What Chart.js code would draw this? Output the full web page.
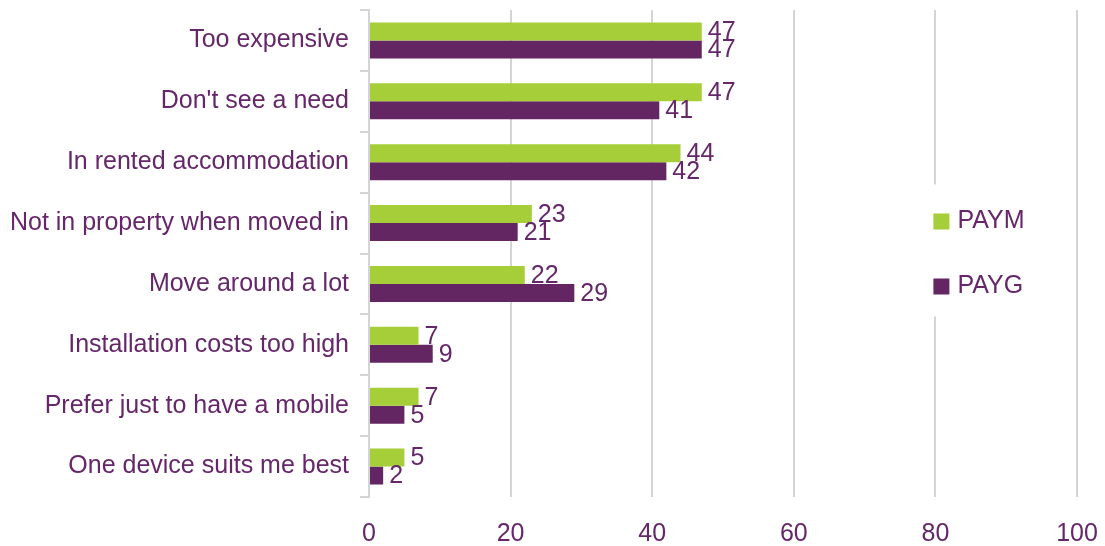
<!DOCTYPE html>
<html>
<head>
<meta charset="utf-8">
<script src="https://cdn.jsdelivr.net/npm/chart.js@4/dist/chart.umd.min.js"></script>
<style>
  html, body { margin: 0; padding: 0; background: #fff; }
  #wrap { width: 1105px; height: 546px; position: relative; }
</style>
</head>
<body>
<div id="wrap"><canvas id="chart"></canvas></div>
<script>
const reasons = [
  'Too expensive',
  "Don't see a need",
  'In rented accommodation',
  'Not in property when moved in',
  'Move around a lot',
  'Installation costs too high',
  'Prefer just to have a mobile',
  'One device suits me best'
];
const paym = [47, 47, 44, 23, 22, 7, 7, 5];
const payg = [47, 41, 42, 21, 29, 9, 5, 2];
const xTicks = [0, 20, 40, 60, 80, 100];

const GREEN = '#a6ce39';
const PURPLE = '#632663';
const TEXT = '#66266a';
const GRID = '#d4d4d4';
const FONT = { family: '"Liberation Sans", Arial, sans-serif', size: 25 };

// value labels just past the end of each bar
const barValues = {
  id: 'barValues',
  afterDatasetsDraw(chart) {
    const g = chart.ctx;
    g.save();
    g.font = FONT.size + 'px ' + FONT.family;
    g.fillStyle = TEXT;
    g.textAlign = 'left';
    g.textBaseline = 'middle';
    chart.data.datasets.forEach((ds, i) => {
      chart.getDatasetMeta(i).data.forEach((bar, j) => {
        g.fillText(String(ds.data[j]), bar.x + 6, bar.y + 1);
      });
    });
    g.restore();
  }
};

// legend sits on top of the plot, right side, with a white backing
const sideLegend = {
  id: 'sideLegend',
  afterDraw(chart) {
    const g = chart.ctx, a = chart.chartArea;
    const x0 = a.left + (a.right - a.left) * 0.8 - 16;
    const yMid = (a.top + a.bottom) / 2;
    g.save();
    g.fillStyle = '#fff';
    g.fillRect(x0 - 14, yMid - 69, 130, 132);
    g.font = FONT.size + 'px ' + FONT.family;
    g.textBaseline = 'middle';
    chart.data.datasets.forEach((ds, i) => {
      const cy = yMid - 32 + i * 65;
      g.fillStyle = ds.backgroundColor;
      g.fillRect(x0 + 14, cy - 8, 16, 16);
      g.fillStyle = TEXT;
      g.fillText(ds.label, x0 + 38, cy);
    });
    g.restore();
  }
};

// keep the plot box fixed: no extra room reserved for label overhang
function noOverhang(s) {
  s.paddingTop = 0; s.paddingBottom = 0;
  s.paddingLeft = 0; s.paddingRight = 0;
}

new Chart(document.getElementById('chart'), {
  type: 'bar',
  data: {
    labels: reasons,
    datasets: [
      { label: 'PAYM', data: paym, backgroundColor: GREEN },
      { label: 'PAYG', data: payg, backgroundColor: PURPLE }
    ]
  },
  options: {
    indexAxis: 'y',
    responsive: true,
    maintainAspectRatio: false,
    animation: false,
    events: [],
    categoryPercentage: 0.59,
    barPercentage: 1.0,
    layout: { padding: { top: 10, right: 28, left: 0, bottom: 0 } },
    plugins: { legend: { display: false }, tooltip: { enabled: false } },
    scales: {
      x: {
        min: 0, max: 100,
        afterBuildTicks: (s) => { s.ticks = xTicks.map(v => ({ value: v })); },
        grid: { color: GRID, lineWidth: 2, drawTicks: false },
        border: { display: false },
        ticks: { color: TEXT, font: FONT, padding: 22 },
        afterFit: (s) => { s.height = 49; noOverhang(s); }
      },
      y: {
        grid: { drawOnChartArea: false, offset: true, color: GRID, lineWidth: 2, tickLength: 9 },
        border: { display: true, color: GRID, width: 2 },
        ticks: { color: TEXT, font: FONT, padding: 11 },
        afterFit: (s) => { s.width = 369; noOverhang(s); }
      }
    }
  },
  plugins: [barValues, sideLegend]
});
</script>
</body>
</html>
